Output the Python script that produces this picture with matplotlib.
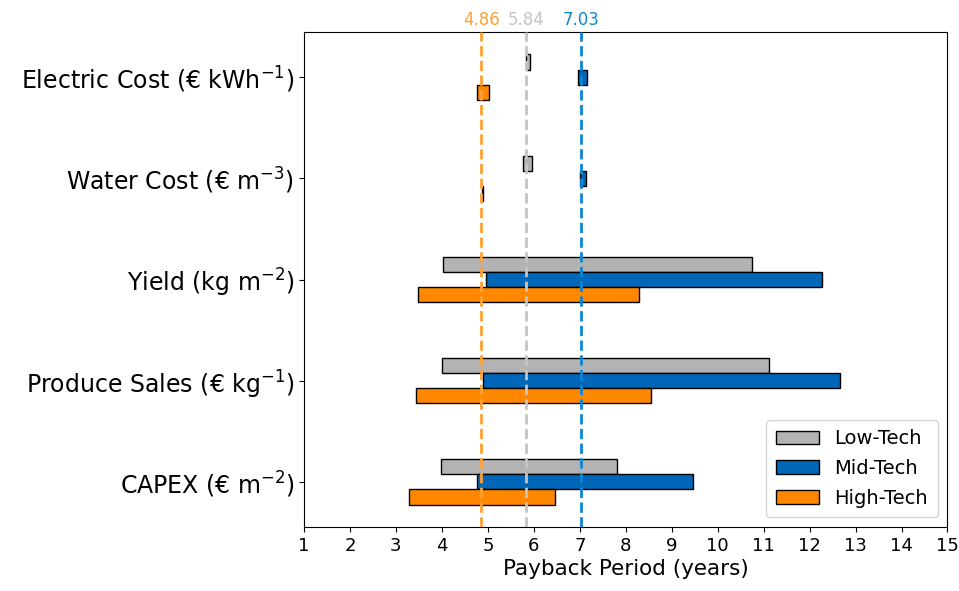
import matplotlib
matplotlib.use("Agg")
import matplotlib.pyplot as plt
import numpy as np

# ---------------------------------- DATA -----------------------------------------
factors = ['CAPEX (€ m$^{-2}$)', 'Produce Sales (€ kg$^{-1}$)', 'Yield (kg m$^{-2}$)',
           'Water Cost (€ m$^{-3}$)', 'Electric Cost (€ kWh$^{-1}$)']
series = ['Low-Tech', 'Mid-Tech', 'High-Tech']

# payback period range (low, high) per factor, same order as factors
low_lo = [3.97, 4.00, 4.03, 5.76, 5.83]
low_hi = [7.80, 11.11, 10.75, 5.96, 5.92]
mid_lo = [4.76, 4.89, 4.97, 7.01, 6.97]
mid_hi = [9.46, 12.67, 12.26, 7.13, 7.16]
high_lo = [3.28, 3.44, 3.47, 4.87, 4.77]
high_hi = [6.45, 8.56, 8.28, 4.90, 5.02]

baseline = [5.84, 7.03, 4.86]  # Low, Mid, High
# ----------------------------------------- END -----------------------------------------------

bar_col = ['#b3b3b3', '#0067b8', '#ff8800']
line_col = ['#c4c4c4', '#0a86d4', '#ffa033']

fig = plt.figure(figsize=(9.59, 5.91), dpi=100)
ax = fig.add_axes([0.317, 0.108, 0.671, 0.838])

y = np.arange(len(factors))
h = 0.15
ranges = [(low_lo, low_hi), (mid_lo, mid_hi), (high_lo, high_hi)]
offs = [h, 0, -h]
for (lo, hi), off, c, lab in zip(ranges, offs, bar_col, series):
    lo = np.array(lo)
    hi = np.array(hi)
    ax.barh(y + off, hi - lo, left=lo, height=h, color=c, edgecolor='black',
            linewidth=1, label=lab, zorder=2)

for b, c in zip(baseline, line_col):
    ax.axvline(b, color=c, linestyle='--', linewidth=2, zorder=3)
    ax.text(b, 1.005, f'{b:.2f}', color=c, ha='center', va='bottom', fontsize=12,
            transform=ax.get_xaxis_transform())

ax.set_xlim(1, 15)
ax.set_xticks(range(1, 16))
ax.set_yticks(y)
ax.set_yticklabels(factors, fontsize=17)
ax.tick_params(axis='x', labelsize=13)
ax.set_xlabel('Payback Period (years)', fontsize=15.5, labelpad=3)

ax.legend(loc='lower right', fontsize=14, handlelength=2.2, handleheight=0.7,
          borderpad=0.5, labelspacing=0.55, handletextpad=0.8)

fig.savefig('out.png', dpi=100)
